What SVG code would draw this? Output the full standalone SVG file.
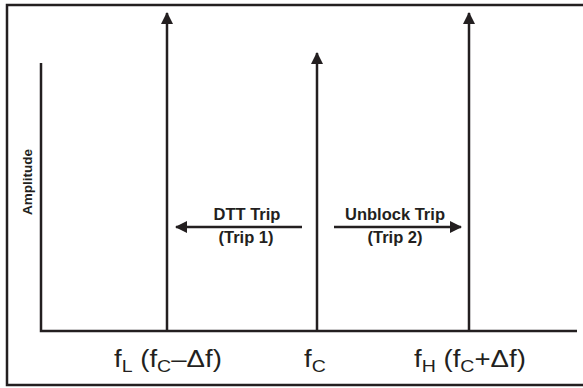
<svg xmlns="http://www.w3.org/2000/svg" width="583" height="388" viewBox="0 0 583 388">
<style>
.ln{stroke:#231f20;stroke-width:2.5;fill:none}
.b{font-family:"Liberation Sans",Arial,sans-serif;font-weight:bold;font-size:16.5px;fill:#231f20;text-anchor:middle}
.a{font-size:13.5px}
.f{font-family:"Liberation Sans",Arial,sans-serif;font-size:24px;fill:#231f20}
.s{font-size:17px}
</style>
<defs>
<marker id="ah" markerWidth="12" markerHeight="12" refX="11" refY="6" orient="auto" markerUnits="userSpaceOnUse">
<path d="M0,0 L12,6 L0,12 Z" fill="#231f20"/>
</marker>
</defs>
<rect x="7" y="5" width="590" height="380" class="ln" stroke-width="2"/>
<g id="axes">
<polyline points="41,63 41,331 577,331" class="ln"/>
<text class="b a" transform="translate(32,182) rotate(-90)">Amplitude</text>
</g>
<g id="connectors">
<line x1="167" y1="331" x2="167" y2="13" class="ln" marker-end="url(#ah)"/>
<line x1="317" y1="331" x2="317" y2="53" class="ln" marker-end="url(#ah)"/>
<line x1="469" y1="331" x2="469" y2="13" class="ln" marker-end="url(#ah)"/>
<line x1="302" y1="227" x2="176" y2="227" class="ln" stroke-width="2" marker-end="url(#ah)"/>
<line x1="334" y1="227" x2="461" y2="227" class="ln" stroke-width="2" marker-end="url(#ah)"/>
</g>
<g id="dtt">
<text class="b" x="247" y="220">DTT Trip</text>
<text class="b" x="246" y="243">(Trip 1)</text>
</g>
<g id="unblock">
<text class="b" x="395" y="220">Unblock Trip</text>
<text class="b" x="395" y="243">(Trip 2)</text>
</g>
<g id="labels">
<text class="f" transform="translate(114,367) scale(1.15,1)">f<tspan class="s" dy="5">L</tspan><tspan dy="-5"> (f</tspan><tspan class="s" dy="5">C</tspan><tspan dy="-5">–Δf)</tspan></text>
<text class="f" transform="translate(304,367) scale(1.15,1)">f<tspan class="s" dy="5">C</tspan></text>
<text class="f" transform="translate(414,367) scale(1.15,1)">f<tspan class="s" dy="5">H</tspan><tspan dy="-5"> (f</tspan><tspan class="s" dy="5">C</tspan><tspan dy="-5">+Δf)</tspan></text>
</g>
</svg>
